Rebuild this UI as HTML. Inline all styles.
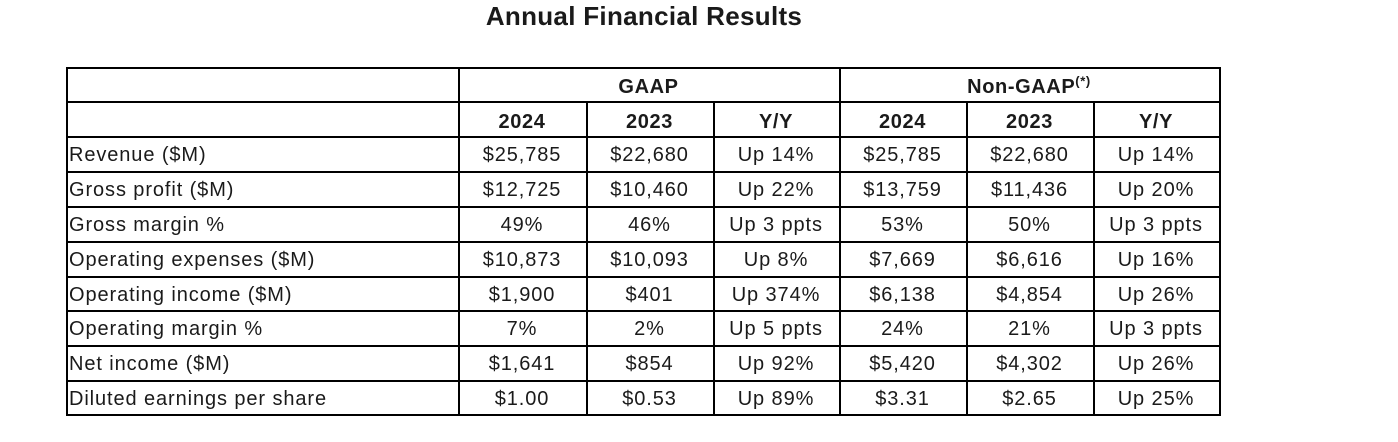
<!DOCTYPE html><html><head><style>
body{margin:0;width:1398px;height:442px;background:#fff;position:relative;font-family:"Liberation Sans",sans-serif;color:#1a1a1a;overflow:hidden}
.h{position:absolute;height:2px;background:#000}
.v{position:absolute;width:2px;background:#000}
.t{position:absolute;font-size:20px;letter-spacing:0.9px;line-height:34px;white-space:nowrap}
.c{text-align:center}
.b{font-weight:bold;letter-spacing:0.6px}
</style></head><body>
<div style="position:absolute;left:0;width:1288px;top:1px;text-align:center;font-size:26px;letter-spacing:0.3px;font-weight:bold;">Annual Financial Results</div>
<div id="g"></div>
<script>
var ys=[67,101,136,171,206,241,276,310,345,380,414];
var xs=[66,458,586,713,839,966,1093,1219];
var h='';
ys.forEach(function(y){h+='<div class="h" style="left:66px;width:1155px;top:'+y+'px"></div>';});
xs.forEach(function(x){var top=(x==66||x==458||x==839||x==1219)?67:101;h+='<div class="v" style="left:'+x+'px;top:'+top+'px;height:'+(416-top)+'px"></div>';});
function cell(x1,x2,y,txt,cls){h+='<div class="t '+cls+'" style="left:'+x1+'px;width:'+(x2-x1)+'px;top:'+y+'px">'+txt+'</div>';}
cell(458,839,70,'GAAP','c b');
cell(839,1219,70,'Non-GAAP<sup style="font-size:13px;line-height:0">(*)</sup>','c b');
var hd=['2024','2023','Y/Y','2024','2023','Y/Y'];
hd.forEach(function(t,i){cell(xs[i+1],xs[i+2],105,t,'c b');});
var rows=[
['Revenue ($M)','$25,785','$22,680','Up 14%','$25,785','$22,680','Up 14%'],
['Gross profit ($M)','$12,725','$10,460','Up 22%','$13,759','$11,436','Up 20%'],
['Gross margin %','49%','46%','Up 3 ppts','53%','50%','Up 3 ppts'],
['Operating expenses ($M)','$10,873','$10,093','Up 8%','$7,669','$6,616','Up 16%'],
['Operating income ($M)','$1,900','$401','Up 374%','$6,138','$4,854','Up 26%'],
['Operating margin %','7%','2%','Up 5 ppts','24%','21%','Up 3 ppts'],
['Net income ($M)','$1,641','$854','Up 92%','$5,420','$4,302','Up 26%'],
['Diluted earnings per share','$1.00','$0.53','Up 89%','$3.31','$2.65','Up 25%']];
rows.forEach(function(r,ri){var y=ys[ri+2]+2;
cell(69,458,y,r[0],'');
for(var i=1;i<7;i++)cell(xs[i],xs[i+1],y,r[i],'c');});
document.getElementById('g').innerHTML=h;
</script>
</body></html>
